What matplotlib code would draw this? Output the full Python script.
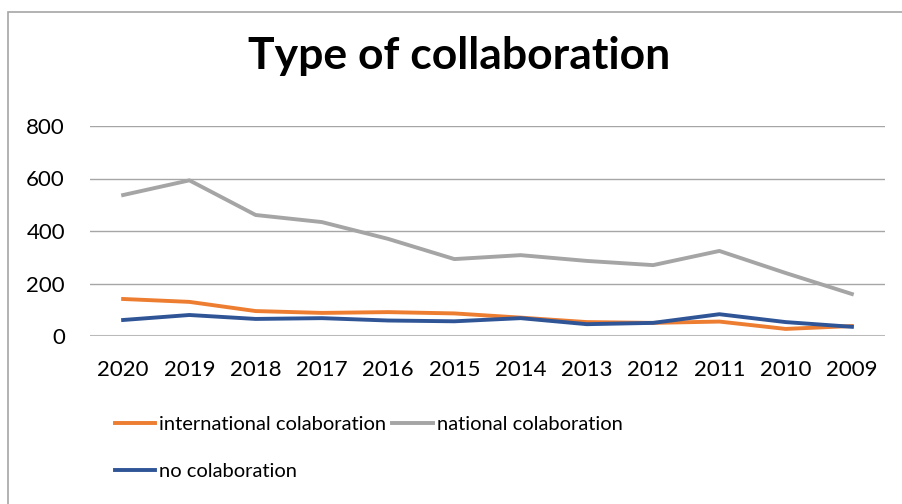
import matplotlib
matplotlib.use("Agg")
import matplotlib.pyplot as plt
from matplotlib.patches import Rectangle

plt.rcParams['font.family'] = ['Lato', 'DejaVu Sans']

years = ['2020', '2019', '2018', '2017', '2016', '2015', '2014', '2013', '2012', '2011', '2010', '2009']
international = [141, 130, 95, 88, 91, 86, 70, 53, 50, 55, 27, 38]
national = [537, 593, 461, 434, 370, 293, 308, 286, 270, 324, 240, 160]
no_collab = [61, 80, 65, 68, 59, 56, 68, 45, 50, 83, 53, 35]

fig = plt.figure(figsize=(9.03, 5.04), dpi=100)
ax = fig.add_axes([90/903, 1-336/504, 795/903, 210/504])

x = range(len(years))
l1, = ax.plot(x, international, color='#ED7D31', lw=2.8, label='international colaboration')
l2, = ax.plot(x, national, color='#A5A5A5', lw=2.8, label='national colaboration')
l3, = ax.plot(x, no_collab, color='#2F5597', lw=2.8, label='no colaboration')

ax.set_xlim(-0.5, len(years) - 0.5)
ax.set_ylim(0, 800)
ax.set_yticks([0, 200, 400, 600, 800])
ax.set_xticks(list(x))
ax.set_xticklabels(years)
ax.tick_params(length=0, labelsize=16, colors='black')
ax.tick_params(axis='y', pad=18)
ax.tick_params(axis='x', pad=17)
ax.grid(axis='y', color='#a6a6a6', lw=1)
ax.set_axisbelow(True)
for s in ax.spines.values():
    s.set_visible(False)
ax.axhline(0, color='#bfbfbf', lw=1.5, zorder=0)

fig.text(0.508, 1-69/504, 'Type of collaboration', ha='center', va='baseline',
         fontsize=32, fontweight='bold')

# column-major fill: first column intl + none, second column national
fig.legend([l1, l3, l2], [l1.get_label(), l3.get_label(), l2.get_label()],
           loc='upper left', bbox_to_anchor=(115/903, 1-416/504), ncol=2,
           frameon=False, fontsize=14.5, handlelength=2.0, handletextpad=0.2,
           columnspacing=0.3, labelspacing=1.5, borderpad=0, borderaxespad=0)

fig.patches.append(Rectangle((8/903, -0.1), 1.2, 1 - 12/504 + 0.1, transform=fig.transFigure,
                             fill=False, edgecolor='#a6a6a6', lw=1.2))

fig.savefig('out.png', dpi=100)
